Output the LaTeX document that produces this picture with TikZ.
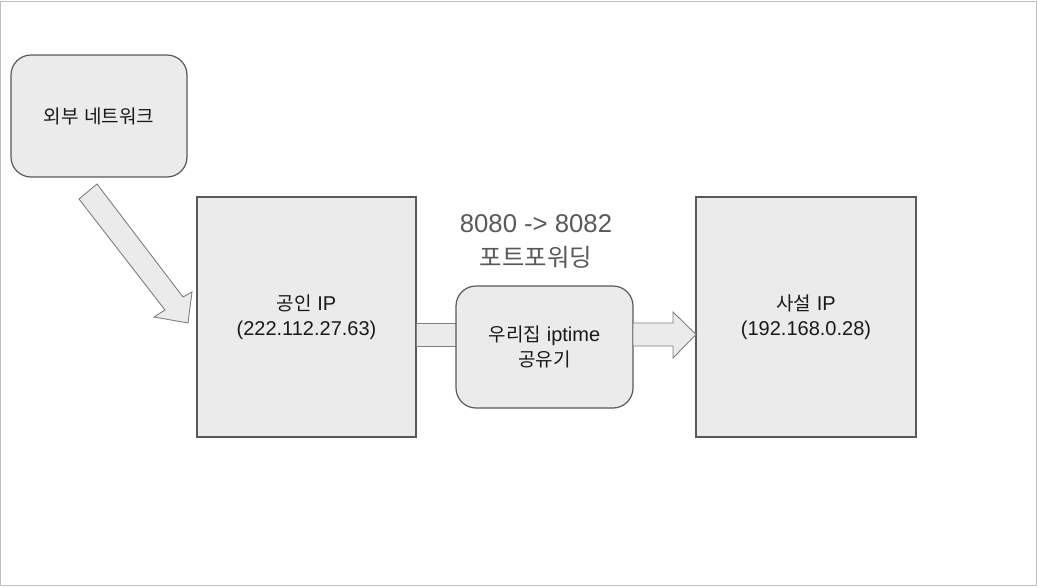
\documentclass[tikz,border=0pt]{standalone}
\usepackage{fontspec}
\setmainfont{Liberation Sans}
\newfontfamily\cjk[Scale=0.95]{Noto Sans CJK KR}
\definecolor{boxfill}{HTML}{EBEBEB}
\definecolor{boxline}{HTML}{595959}
\definecolor{arrowline}{HTML}{7F7F7F}
\definecolor{frame}{HTML}{C0C0C0}
\definecolor{labelgray}{HTML}{595959}
\tikzset{
  plainbox/.style={draw=boxline, fill=boxfill, line width=1.2pt, inner sep=0pt,
    align=center, font=\fontsize{20}{25}\selectfont, text=black!90},
  roundbox/.style={plainbox, rounded corners=20pt},
  blockarrow/.style={draw=arrowline, fill=boxfill, line width=0.9pt, line join=miter},
}
\begin{document}
\begin{tikzpicture}[x=1pt,y=-1pt]
\useasboundingbox (0,0) rectangle (1038,587);
\draw[frame, line width=1pt] (0.5,1.5) rectangle (1036.5,585.5);

\node[roundbox, minimum width=176pt, minimum height=122pt] (ext) at (99,116) {{\cjk 외부} {\cjk 네트워크}};
\node[plainbox, minimum width=219pt, minimum height=240pt] (pub) at (306.5,317) {{\cjk 공인} IP\\(222.112.27.63)};
\node[plainbox, minimum width=220pt, minimum height=240pt] (priv) at (806,317) {{\cjk 사설} IP\\(192.168.0.28)};

% left connecting bar
\coordinate (barA) at (416,323);
\coordinate (barB) at (456,346);
\draw[blockarrow] (barA) rectangle (barB);

\node[roundbox, minimum width=177pt, minimum height=122pt] (router) at (544.5,347) {{\cjk 우리집} iptime\\{\cjk 공유기}};

\node[align=center, text=labelgray, font=\fontsize{25.7}{34}\selectfont, inner sep=0pt] (pf) at (536,241) {8080 -> 8082\\{\cjk 포트포워딩}};

% right block arrow router -> private
\coordinate (rt) at (633,334.5);
\coordinate (rh) at (696,334.5);
\draw[blockarrow] (rt |- 0,323) -- (673,323) -- (673,312) -- (rh) -- (673,358) -- (673,346) -- (rt |- 0,346) -- cycle;

% diagonal block arrow external -> public
\draw[blockarrow] (79,199) -- (97,184) -- (183,297) -- (192,292) -- (188,323) -- (154,317) -- (165,310) -- cycle;
\end{tikzpicture}
\end{document}
